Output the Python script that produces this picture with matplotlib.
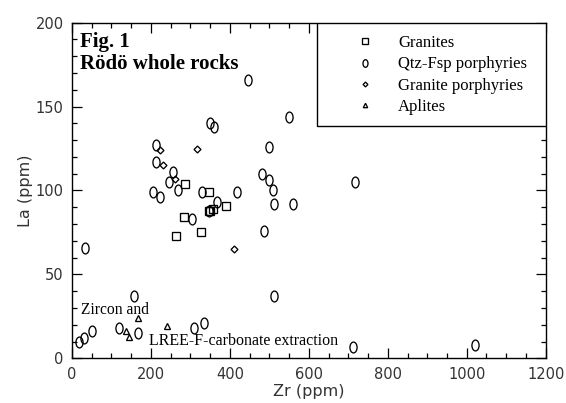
import numpy as np
import matplotlib.pyplot as plt
from matplotlib.path import Path
from matplotlib.patches import Rectangle
from matplotlib.ticker import MultipleLocator

# Granites
gran_zr = [264, 284, 287, 327, 346, 346, 350, 357, 391]
gran_la = [73, 84, 104, 75, 99, 88, 88, 89, 91]

# Qtz-Fsp porphyries
qfp_zr = [18, 30, 50, 118, 157, 168, 308, 335, 511, 713, 1021, 33,
          204, 212, 212, 222, 245, 255, 268, 304, 329, 348, 349, 359,
          367, 418, 445, 482, 486, 498, 498, 509, 513, 549, 559, 717]
qfp_la = [10, 12, 16, 18, 37, 15, 18, 21, 37, 7, 8, 66,
          99, 127, 117, 96, 105, 111, 100, 83, 99, 88, 140, 138,
          93, 99, 166, 110, 76, 126, 106, 100, 92, 144, 92, 105]

# Granite porphyries
gp_zr = [222, 231, 260, 316, 410]
gp_la = [124, 115, 107, 125, 65]

# Aplites
apl_zr = [136, 145, 168, 240]
apl_la = [16.5, 12.5, 24, 19]

# tall ellipse marker ("0" shape)
circ = Path.unit_circle()
ellipse = Path(circ.vertices * np.array([0.66, 1.0]), circ.codes)

plt.rcParams['font.family'] = 'DejaVu Sans'
fig = plt.figure(figsize=(5.66, 4.03), dpi=100)
ax = fig.add_axes([0.1272, 0.1109, 0.8369, 0.8328])

kw = dict(linestyle='none', markerfacecolor='none', markeredgecolor='black', markeredgewidth=0.95)
ax.plot(gran_zr, gran_la, marker='s', markersize=5.3, label='Granites', **kw)
ax.plot(qfp_zr, qfp_la, marker=ellipse, markersize=7.8, label='Qtz-Fsp porphyries', **kw)
ax.plot(gp_zr, gp_la, marker='D', markersize=3.5, label='Granite porphyries', **kw)
ax.plot(apl_zr, apl_la, marker='^', markersize=4.5, label='Aplites', **kw)

ax.set_xlim(0, 1200)
ax.set_ylim(0, 200)
ax.xaxis.set_major_locator(MultipleLocator(200))
ax.xaxis.set_minor_locator(MultipleLocator(50))
ax.yaxis.set_major_locator(MultipleLocator(50))
ax.yaxis.set_minor_locator(MultipleLocator(10))
ax.tick_params(which='both', direction='in', top=True, right=True,
               labelsize=10.5, labelcolor='#333333', width=0.9)
ax.tick_params(which='major', length=7.5, pad=6)
ax.tick_params(which='minor', length=3.6)
for s in ax.spines.values():
    s.set_linewidth(1.0)

ax.set_xlabel('Zr (ppm)', fontsize=11.5, color='#333333', labelpad=2)
ax.set_ylabel('La (ppm)', fontsize=11.5, color='#333333', labelpad=2)

serif = 'Liberation Serif'
ax.text(0.017, 0.929, 'Fig. 1', transform=ax.transAxes, fontsize=15,
        fontweight='bold', family=serif, va='baseline')
ax.text(0.017, 0.861, 'Rödö whole rocks', transform=ax.transAxes, fontsize=15,
        fontweight='bold', family=serif, va='baseline')
ax.text(22, 26.2, 'Zircon and', fontsize=11.2, family=serif, va='baseline')
ax.text(194, 7.9, 'LREE-F-carbonate extraction', fontsize=11.5, family=serif, va='baseline')

# legend box
ax.add_patch(Rectangle((0.517, 0.693), 0.483, 0.307, transform=ax.transAxes,
                       facecolor='white', edgecolor='black', linewidth=1.0, zorder=4))
leg = ax.legend(loc='upper left', bbox_to_anchor=(0.583, 0.963), frameon=False,
                borderpad=0, borderaxespad=0, handlelength=2.0, handletextpad=1.0,
                labelspacing=0.32, markerscale=0.7, numpoints=1,
                prop={'family': serif, 'size': 12})
leg.set_zorder(5)

fig.savefig('out.png', dpi=100)
